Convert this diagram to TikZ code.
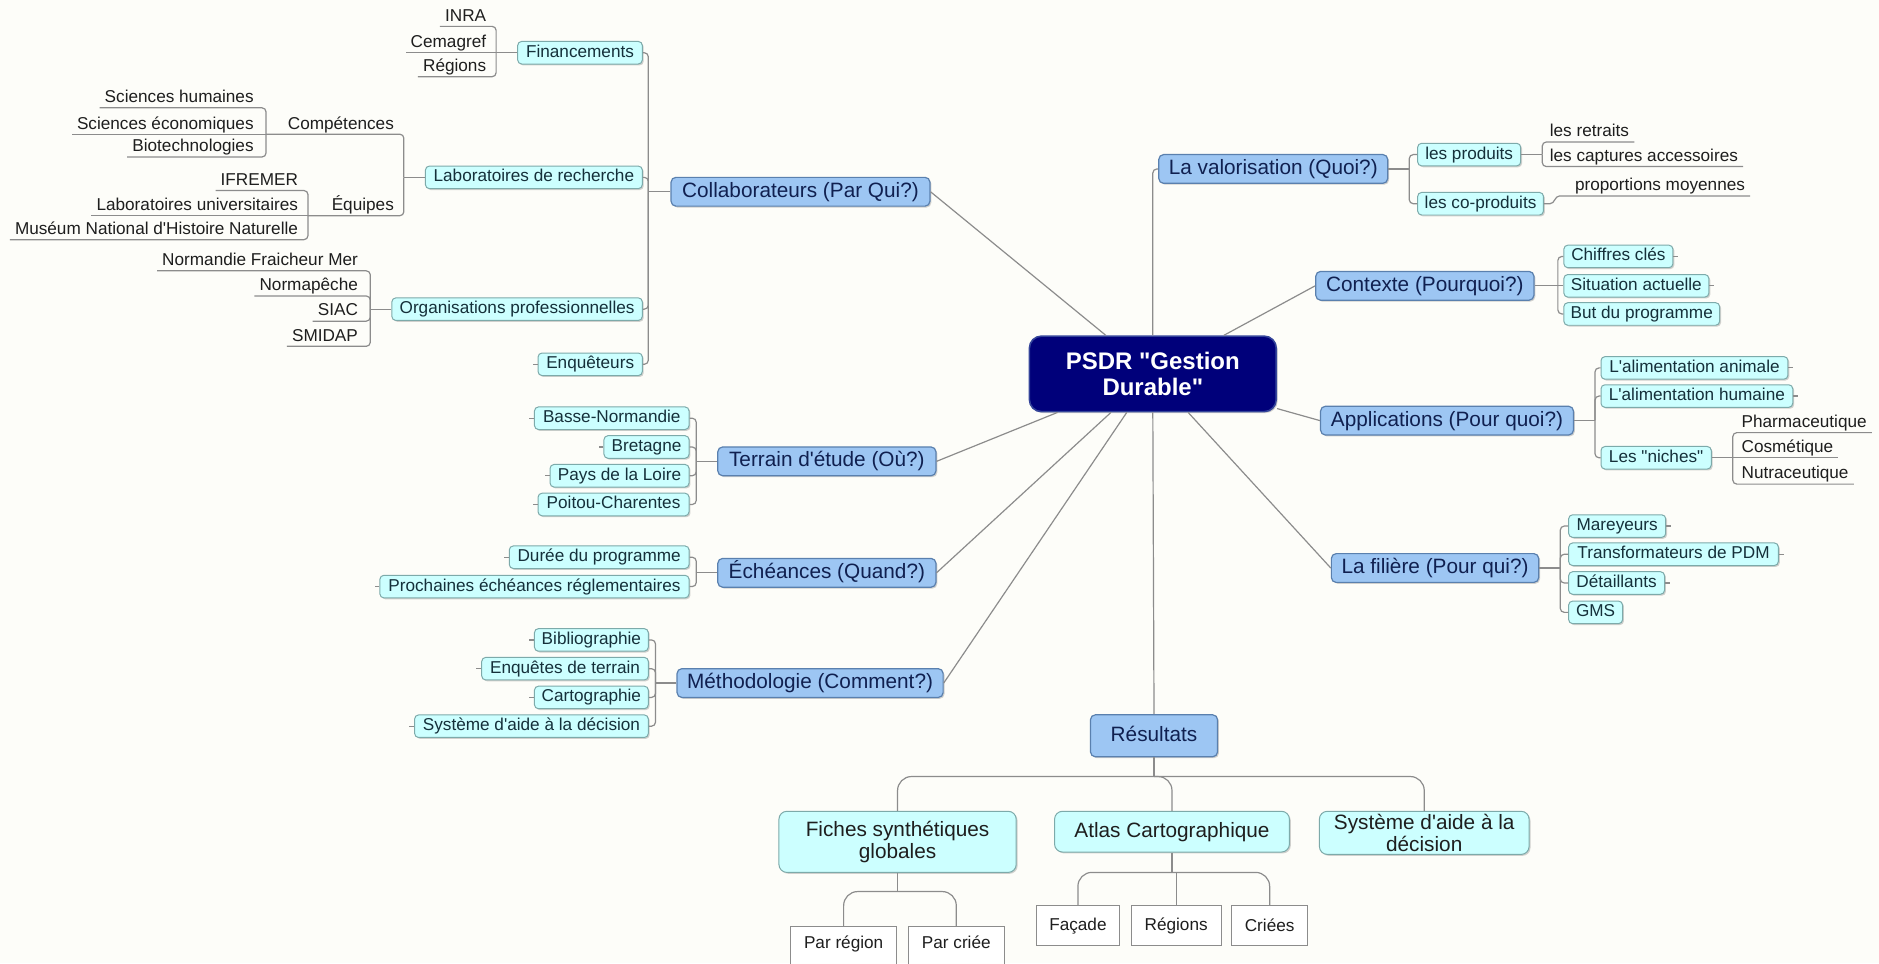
\documentclass[tikz,border=0pt]{standalone}
\usepackage{fontspec}
\setmainfont{Liberation Sans}[Ligatures=TeXOff]
\usetikzlibrary{calc,shadows}
\definecolor{bgc}{HTML}{FDFDF9}
\definecolor{mainfill}{HTML}{9DC6F3}
\definecolor{maindraw}{HTML}{5A80AE}
\definecolor{leaffill}{HTML}{CCFFFF}
\definecolor{leafdraw}{HTML}{7DAAAA}
\definecolor{corefill}{HTML}{00007A}
\definecolor{coredraw}{HTML}{34449A}
\definecolor{linec}{HTML}{8C8C8C}
\definecolor{maintext}{HTML}{102050}
\definecolor{leaftext}{HTML}{15303A}
\definecolor{plaintext}{HTML}{1E1E1E}
\definecolor{sqdraw}{HTML}{8C8C8C}
\tikzset{
  conn/.style={draw=linec, line width=0.6pt},
  rconn/.style={conn, rounded corners=2pt},
  mw/.style={minimum width=#1*0.6pt},
  mh/.style={minimum height=#1*0.6pt},
  shd/.style={drop shadow={shadow xshift=0.7pt, shadow yshift=-0.7pt, opacity=0.25, fill=black!70}},
  core/.style={shd, draw=coredraw, line width=0.8pt, fill=corefill, rounded corners=6pt, text=white,
    font=\fontsize{12}{13}\selectfont\bfseries, align=center, minimum width=123.6pt, minimum height=37.8pt, inner sep=2pt},
  mainbox/.style={shd, draw=maindraw, line width=0.6pt, fill=mainfill, rounded corners=2.4pt, text=maintext,
    font=\fontsize{10.4}{12}\selectfont, text height=7.6pt, text depth=2.2pt, inner xsep=3pt, inner ysep=2.3pt},
  leaf/.style={shd, draw=leafdraw, line width=0.5pt, fill=leaffill, rounded corners=2pt, text=leaftext,
    font=\fontsize{8.6}{10}\selectfont, text height=6.3pt, text depth=1.8pt, inner xsep=2pt, inner ysep=1.6pt},
  ultext/.style={text=plaintext, font=\fontsize{8.6}{10}\selectfont, text height=6.3pt, text depth=1.8pt,
    inner xsep=2.4pt, inner ysep=0.6pt},
  ull/.style={ultext, anchor=south east},
  ulr/.style={ultext, anchor=south west},
  bigleaf/.style={shd, draw=leafdraw, line width=0.5pt, fill=leaffill, rounded corners=4pt, text=plaintext,
    font=\fontsize{10.4}{10.8}\selectfont, align=center, inner sep=1pt},
  sqbox/.style={draw=sqdraw, line width=0.5pt, fill=white, text=plaintext, font=\fontsize{8.6}{10}\selectfont, inner sep=1pt},
}
\begin{document}
\begin{tikzpicture}[x=0.6pt,y=-0.6pt]
\fill[bgc] (0,0) rectangle (1568,804);
\useasboundingbox (0,0) rectangle (1568,804);
\clip (0,0) rectangle (1568,804);

% ---------- nodes ----------
\node[core] (center) at (962,312) {PSDR "Gestion\\Durable"};

\node[mainbox, mw=216] (collab) at (668,160) {Collaborateurs (Par Qui?)};
\node[mainbox, mw=182] (terrain) at (690,385) {Terrain d'étude (Où?)};
\node[mainbox, mw=182] (eche) at (690,478) {Échéances (Quand?)};
\node[mainbox, mw=222] (metho) at (676,570) {Méthodologie (Comment?)};
\node[mainbox, mw=191] (valo) at (1062.5,141) {La valorisation (Quoi?)};
\node[mainbox, mw=182] (ctx) at (1189,238.5) {Contexte (Pourquoi?)};
\node[mainbox, mw=211] (appl) at (1207.5,351) {Applications (Pour quoi?)};
\node[mainbox, mw=173] (fil) at (1197.5,474) {La filière (Pour qui?)};
\node[mainbox, mw=106, minimum height=21pt] (res) at (963,614) {Résultats};

% collaborateurs
\node[leaf, mw=104] (fin) at (484,44) {Financements};
\node[leaf, mw=181] (labo) at (445.5,148) {Laboratoires de recherche};
\node[leaf, mw=209] (org) at (431.5,258) {Organisations professionnelles};
\node[leaf, mw=87] (enq) at (492.5,304) {Enquêteurs};

\node[ull] (inra) at (410,22) {INRA};
\node[ull] (cema) at (410,44) {Cemagref};
\node[ull] (regi) at (410,64) {Régions};
\node[ull] (comp) at (333,112) {Compétences};
\node[ull] (sh) at (216,90) {Sciences humaines};
\node[ull] (se) at (216,112) {Sciences économiques};
\node[ull] (bt) at (216,131) {Biotechnologies};
\node[ull] (equi) at (333,180) {Équipes};
\node[ull] (ifr) at (253,159) {IFREMER};
\node[ull] (lu) at (253,180) {Laboratoires universitaires};
\node[ull] (mnhn) at (253,200) {Muséum National d'Histoire Naturelle};
\node[ull] (nfm) at (303,226) {Normandie Fraicheur Mer};
\node[ull] (nmp) at (303,247) {Normapêche};
\node[ull] (siac) at (303,268) {SIAC};
\node[ull] (smid) at (303,289) {SMIDAP};

% terrain
\node[leaf, mw=129] (bn) at (510.5,349) {Basse-Normandie};
\node[leaf, mw=71] (bre) at (539.5,373) {Bretagne};
\node[leaf, mw=116] (pdl) at (517,397) {Pays de la Loire};
\node[leaf, mw=126] (pc) at (512,421) {Poitou-Charentes};
% echeances
\node[leaf, mw=150] (duree) at (500,465) {Durée du programme};
\node[leaf, mw=258] (proch) at (446,489.5) {Prochaines échéances réglementaires};
% methodologie
\node[leaf, mw=95] (biblio) at (493.5,534) {Bibliographie};
\node[leaf, mw=139] (enqt) at (471.5,558) {Enquêtes de terrain};
\node[leaf, mw=95] (carto) at (493.5,582) {Cartographie};
\node[leaf, mw=195] (sad) at (443.5,606) {Système d'aide à la décision};

% valorisation
\node[leaf, mw=86] (prod) at (1226,129) {les produits};
\node[leaf, mw=105] (coprod) at (1235.5,170) {les co-produits};
\node[ulr] (ret) at (1289,118.5) {les retraits};
\node[ulr] (capt) at (1289,139) {les captures accessoires};
\node[ulr] (prop) at (1310,163.5) {proportions moyennes};

% contexte
\node[leaf, mw=91] (chif) at (1350.5,214) {Chiffres clés};
\node[leaf, mw=121] (sit) at (1365.5,238.5) {Situation actuelle};
\node[leaf, mw=130] (but) at (1370,262) {But du programme};

% applications
\node[leaf, mw=156] (alan) at (1414,307) {L'alimentation animale};
\node[leaf, mw=160] (alhu) at (1416,330.5) {L'alimentation humaine};
\node[leaf, mw=92] (niches) at (1382,382) {Les "niches"};
\node[ulr] (pharm) at (1449,361) {Pharmaceutique};
\node[ulr] (cosm) at (1449,382) {Cosmétique};
\node[ulr] (nutra) at (1449,404) {Nutraceutique};

% filiere
\node[leaf, mw=81] (mar) at (1349.5,439) {Mareyeurs};
\node[leaf, mw=175] (trans) at (1396.5,462.5) {Transformateurs de PDM};
\node[leaf, mw=80] (det) at (1349,486.5) {Détaillants};
\node[leaf, mw=45] (gms) at (1331.5,511) {GMS};

% resultats
\node[bigleaf, mw=198, mh=51] (fiches) at (749,702.5) {Fiches synthétiques\\globales};
\node[bigleaf, mw=196, mh=34] (atlas) at (978,694) {Atlas Cartographique};
\node[bigleaf, mw=175, mh=36] (sysd) at (1188.5,695) {Système d'aide à la\\décision};
\node[sqbox, mw=88, anchor=north, text height=11.1pt, text depth=12pt, inner ysep=0pt] (parreg) at (704,773) {Par région};
\node[sqbox, mw=80, anchor=north, text height=11.1pt, text depth=12pt, inner ysep=0pt] (parcri) at (798,773) {Par criée};
\node[sqbox, mw=69, mh=33] (facade) at (899.5,772.5) {Façade};
\node[sqbox, mw=75, mh=33] (regions) at (981.5,772.5) {Régions};
\node[sqbox, mw=63, mh=33] (criees) at (1059.5,772.5) {Criées};

% ---------- connectors ----------
\draw[conn] (collab.east) -- (center);
\draw[conn] (terrain.east) -- (center);
\draw[conn] (eche.east) -- (center);
\draw[conn] (metho.east) -- (center);
\draw[conn] (ctx.west) -- (center);
\draw[conn] (appl.west) -- (center);
\draw[conn] (fil.west) -- (center);
\draw[rconn] (center.north) |- (valo.west);
\draw[conn] (center.south) -- (res.north);

% collaborateurs
\coordinate (bCol) at (541,160);
\draw[conn] (collab.west) -- (bCol);
\foreach \c in {fin,labo,org,enq} \draw[rconn] (bCol) |- (\c.east);

\coordinate (bFin) at (414,44);
\draw[conn] (fin.west) -- (bFin) -- (cema.south west);
\draw[rconn] (bFin) |- (inra.south west);
\draw[rconn] (bFin) |- (regi.south west);

\coordinate (bLab) at (337,148);
\coordinate (bComp) at (222,112);
\coordinate (bEq) at (257,180);
\draw[conn] (labo.west) -- (bLab);
\draw[rconn] (bLab) |- (bComp);
\draw[rconn] (bLab) |- (bEq);
\draw[conn] (bComp) -- (se.south west);
\draw[rconn] (bComp) |- (sh.south west);
\draw[rconn] (bComp) |- (bt.south west);
\draw[conn] (bEq) -- (lu.south west);
\draw[rconn] (bEq) |- (ifr.south west);
\draw[rconn] (bEq) |- (mnhn.south west);

\coordinate (bOrg) at (309,258);
\draw[conn] (org.west) -- (bOrg);
\foreach \c in {nfm,nmp,siac,smid} \draw[rconn] (bOrg) |- (\c.south west);

% terrain, echeances, methodologie
\coordinate (bTer) at (581,385);
\draw[conn] (terrain.west) -- (bTer);
\foreach \c in {bn,bre,pdl,pc} \draw[rconn] (bTer) |- (\c.east);
\coordinate (bEch) at (581,478);
\draw[conn] (eche.west) -- (bEch);
\foreach \c in {duree,proch} \draw[rconn] (bEch) |- (\c.east);
\coordinate (bMet) at (547,570);
\draw[conn] (metho.west) -- (bMet);
\foreach \c in {biblio,enqt,carto,sad} \draw[rconn] (bMet) |- (\c.east);

% valorisation
\coordinate (bVal) at (1176,141);
\draw[conn] (valo.east) -- (bVal);
\foreach \c in {prod,coprod} \draw[rconn] (bVal) |- (\c.west);
\coordinate (bProd) at (1287,129);
\draw[conn] (prod.east) -- (bProd);
\draw[rconn] (bProd) |- (ret.south east);
\draw[rconn] (bProd) |- (capt.south east);
\draw[conn] (coprod.east) -- ++(5,0) to[out=0,in=180] ++(8,-6.5) -- (prop.south east);

% contexte
\coordinate (bCtx) at (1300,238.5);
\draw[conn] (ctx.east) -- (bCtx) -- (sit.west);
\draw[rconn] (bCtx) |- (chif.west);
\draw[rconn] (bCtx) |- (but.west);

% applications
\coordinate (bApp) at (1331,351);
\draw[conn] (appl.east) -- (bApp);
\foreach \c in {alan,alhu,niches} \draw[rconn] (bApp) |- (\c.west);
\coordinate (bNi) at (1446,382);
\draw[conn] (niches.east) -- (bNi) -- (cosm.south east);
\draw[rconn] (bNi) |- (pharm.south east);
\draw[rconn] (bNi) |- (nutra.south east);

% filiere
\coordinate (bFil) at (1302,474);
\draw[conn] (fil.east) -- (bFil);
\foreach \c in {mar,trans,det,gms} \draw[rconn] (bFil) |- (\c.west);

% resultats
\coordinate (bRes) at (963,648);
\draw[conn] (res.south) -- (bRes);
\foreach \c in {fiches,atlas,sysd} \draw[conn, rounded corners=7pt] (bRes) -| (\c.north);
\coordinate (bFi) at (749,744);
\draw[conn] (fiches.south) -- (bFi);
\foreach \c in {parreg,parcri} \draw[conn, rounded corners=7pt] (bFi) -| (\c.north);
\coordinate (bAt) at (978,728);
\draw[conn] (atlas.south) -- (bAt);
\foreach \c in {facade,criees} \draw[conn, rounded corners=7pt] (bAt) -| (\c.north);
\draw[conn] (bAt) -| (regions.north);

% small stubs of folded branches
\foreach \n in {enq,bn,bre,pdl,pc,duree,proch,biblio,enqt,carto,sad} \draw[conn] (\n.west) -- ++(-4,0);
\foreach \n in {chif,sit,alan,alhu,mar,trans,det} \draw[conn] (\n.east) -- ++(4,0);
\end{tikzpicture}
\end{document}
